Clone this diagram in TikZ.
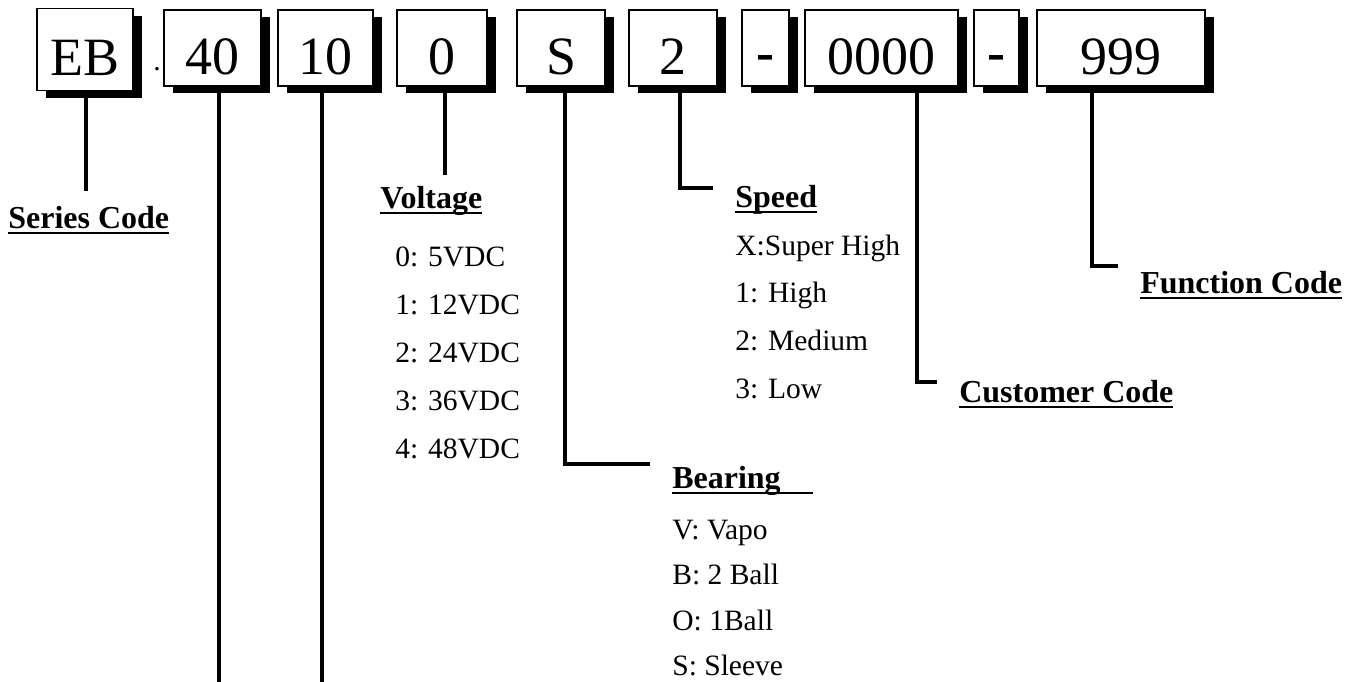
\documentclass[tikz,border=0pt]{standalone}
\usepackage{fontspec}
\setmainfont{Liberation Serif}
\usetikzlibrary{shadows,calc}

\newcommand{\pxu}{0.02cm}
\newcommand{\tul}[1]{\setbox0\hbox{#1}\rlap{\rule[-3.4pt]{\wd0}{1.1pt}}\box0}
\newcommand{\dsh}{\raisebox{2pt}{\bfseries -}}

\begin{document}
\begin{tikzpicture}[x=0.02cm, y=-0.02cm, line join=miter,
            codebox/.style={
            draw,
            fill=white,
            rectangle,
            line width=1.1pt,
            inner sep=0pt,
            minimum height=76*\pxu,
            text height=30pt,
            text depth=0pt,
            font=\fontsize{30.7}{36}\selectfont,
            drop shadow={shadow xshift=0.18cm, shadow yshift=-0.14cm, opacity=1, fill=black}},
            stem/.style={line width=2.6pt},
            title/.style={
            anchor=base west,
            inner sep=0pt,
            font=\fontsize{18.2}{22}\selectfont\bfseries},
            item/.style={
            anchor=base west,
            inner sep=0pt,
            font=\fontsize{16.8}{20}\selectfont}]

    \useasboundingbox (0,0) rectangle (1360,681);

    \node[codebox, minimum width=96*\pxu, minimum height=82*\pxu] (beb) at (85,49.5) {EB};
    \node[item, anchor=base] (dot) at (157,70) {.};
    \foreach \name/\txt/\cx/\w in {b40/40/212.5/97, b10/10/325.5/95, bvol/0/442/90, bbear/S/561/88,
                                   bspd/2/673/88, bdasha/\dsh/765.5/47, bcus/0000/881.5/153,
                                   bdashb/\dsh/996.5/45, bfun/999/1121/168}
    {
        \node[codebox, minimum width=\w*\pxu] (\name) at (\cx,48) {\txt};
    }

    \coordinate (eser) at (86,191);
    \coordinate (e40) at (219,685);
    \coordinate (e10) at (322,685);
    \coordinate (evol) at (445,175);
    \coordinate (kbear) at (565,464);
    \coordinate (ebear) at (650,464);
    \coordinate (kspd) at (680,188);
    \coordinate (espd) at (713,188);
    \coordinate (kcus) at (917,382);
    \coordinate (ecus) at (937,382);
    \coordinate (kfun) at (1092,266);
    \coordinate (efun) at (1118,266);

    \draw[stem] (beb.south -| eser) -- (eser);
    \draw[stem] (b40.south -| e40) -- (e40);
    \draw[stem] (b10.south -| e10) -- (e10);
    \draw[stem] (bvol.south -| evol) -- (evol);
    \draw[stem] (bbear.south -| kbear) -- (kbear) -- (ebear);
    \draw[stem] (bspd.south -| kspd) -- (kspd) -- (espd);
    \draw[stem] (bcus.south -| kcus) -- (kcus) -- (ecus);
    \draw[stem] (bfun.south -| kfun) -- (kfun) -- (efun);

    \node[title] (tser) at (8,228) {\tul{Series Code}};
    \node[title] (tvol) at (380,208) {\tul{Voltage}};
    \node[title] (tspd) at (735,207) {\tul{Speed}};
    \node[title] (tbear) at (672,488) {\tul{Bearing\hspace{1em}}};
    \node[title] (tcus) at (959,402) {\tul{Customer Code}};
    \node[title] (tfun) at (1140,293) {\tul{Function Code}};

    \foreach \t [count=\i from 0] in {0: 5VDC, 1: 12VDC, 2: 24VDC, 3: 36VDC, 4: 48VDC}
        \node[item] (vol\i) at (395, 266+48*\i) {\t};
    \foreach \t [count=\i from 0] in {X:Super High, 1: High, 2: Medium, 3: Low}
        \node[item] (spd\i) at (735, 255+47.7*\i) {\t};
    \foreach \t [count=\i from 0] in {V: Vapo, B: 2 Ball, O: 1Ball, S: Sleeve}
        \node[item] (bear\i) at (672, 539+45.5*\i) {\t};
\end{tikzpicture}
\end{document}
